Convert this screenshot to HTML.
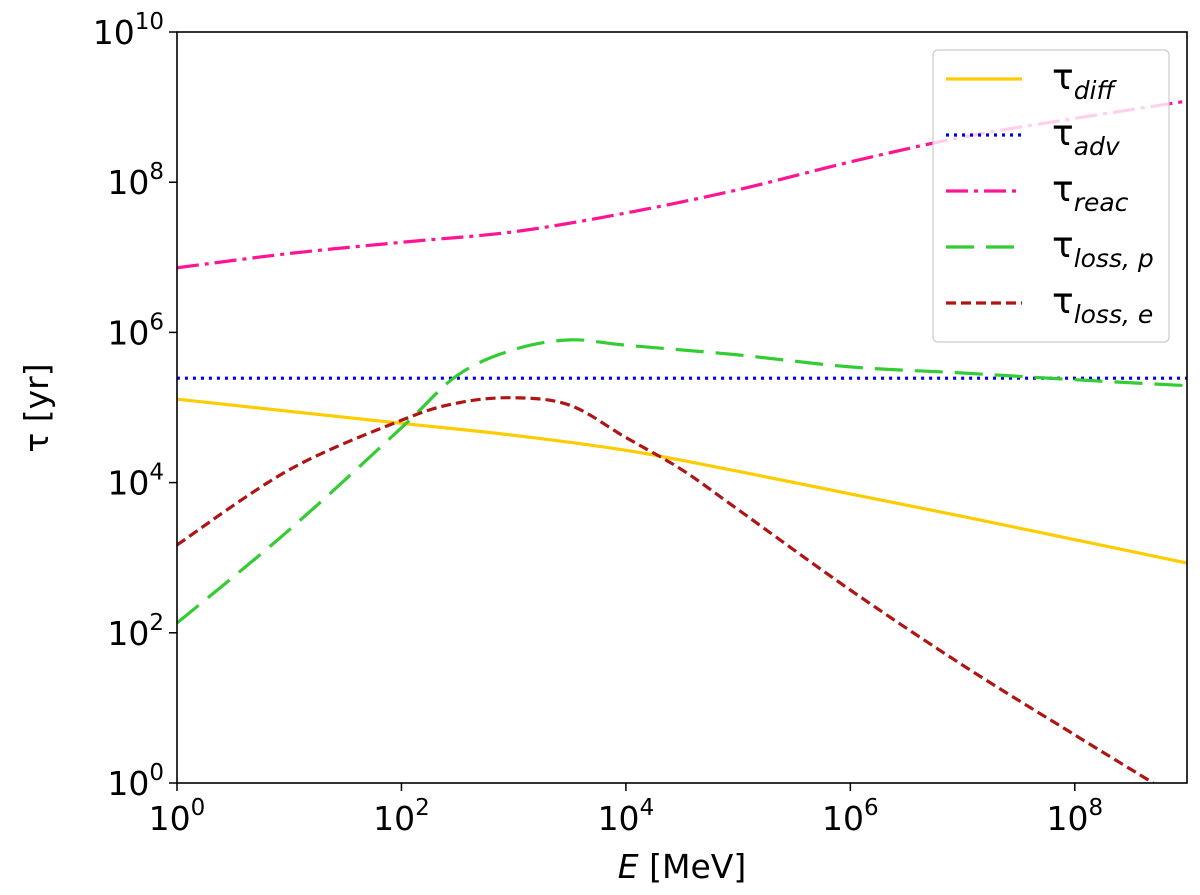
<!DOCTYPE html>
<html><head><meta charset="utf-8"><style>
body{margin:0;background:#fff}
svg text{font-family:"DejaVu Sans","Liberation Sans",sans-serif;fill:#000}
</style></head><body>
<svg id="chart" width="1200" height="890" viewBox="0 0 1200 890" xmlns="http://www.w3.org/2000/svg">
<defs><clipPath id="clip"><rect x="177" y="32" width="1010" height="751"/></clipPath></defs>
<g id="series" clip-path="url(#clip)"></g>
<rect x="177" y="32" width="1010" height="751" fill="none" stroke="#000" stroke-width="1.6"/>
<g id="axes"></g>
<text x="682" y="878" font-size="33" text-anchor="middle"><tspan font-style="italic">E</tspan> [MeV]</text>
<text transform="translate(48,408) rotate(-90)" font-size="33" text-anchor="middle">τ [yr]</text>
<g id="legend"></g>
</svg>
<script>
const xDecades=[0,2,4,6,8];
const yDecades=[0,2,4,6,8,10];
const diffX=[0,1,2,3,4,5,6,7,8,9];
const diffY=[5.11,4.95,4.79,4.63,4.43,4.15,3.85,3.55,3.24,2.93];
const advX=[0,9];
const advY=[5.39,5.39];
const reacX=[0,1,2,3,4,5,6,7,8,9];
const reacY=[6.86,7.05,7.2,7.34,7.59,7.9,8.27,8.6,8.85,9.08];
const losspX=[0,1,2,2.5,3,3.5,4,5,6,7,8,9];
const losspY=[2.13,3.37,4.73,5.43,5.77,5.9,5.83,5.7,5.54,5.46,5.37,5.29];
const losseX=[0,1,2,2.5,3,3.5,4,4.5,5,6,7,8,8.7];
const losseY=[3.17,4.17,4.83,5.06,5.13,5.03,4.6,4.17,3.64,2.57,1.57,0.64,0];
const NS="http://www.w3.org/2000/svg";
const sx=v=>177+v*(1010/9);
const sy=v=>783-v*(751/10);
const axes=document.getElementById('axes');
function mk(tag,attrs,parent){const e=document.createElementNS(NS,tag);for(const k in attrs)e.setAttribute(k,attrs[k]);parent.appendChild(e);return e;}
function smooth(xs,ys){
  const P=xs.map((v,i)=>[sx(v),sy(ys[i])]);
  let d='M'+P[0][0].toFixed(1)+','+P[0][1].toFixed(1);
  for(let i=0;i<P.length-1;i++){
    const p0=P[Math.max(0,i-1)],p1=P[i],p2=P[i+1],p3=P[Math.min(P.length-1,i+2)];
    const c1=[p1[0]+(p2[0]-p0[0])/6,p1[1]+(p2[1]-p0[1])/6];
    const c2=[p2[0]-(p3[0]-p1[0])/6,p2[1]-(p3[1]-p1[1])/6];
    d+=' C'+c1.map(v=>v.toFixed(1)).join(',')+' '+c2.map(v=>v.toFixed(1)).join(',')+' '+p2.map(v=>v.toFixed(1)).join(',');
  }
  return d;
}
xDecades.forEach(d=>{
  const t=mk('line',{x1:sx(d),x2:sx(d),y1:783,y2:791,stroke:'#000','stroke-width':1.5},axes);
  
  
  const l=mk('text',{x:sx(d),y:830,'font-size':33,'text-anchor':'middle'},axes);
  
  
  l.innerHTML='10<tspan dy="-15" font-size="23">'+d+'</tspan>';
});
yDecades.forEach(d=>{
  const t=mk('line',{x1:169,x2:177,y1:sy(d),y2:sy(d),stroke:'#000','stroke-width':1.5},axes);
  
  
  const l=mk('text',{x:164,y:sy(d)+12,'font-size':33,'text-anchor':'end'},axes);
  
  
  l.innerHTML='10<tspan dy="-15" font-size="23">'+d+'</tspan>';
});
const seriesDefs=[
 {n:'tau-diff',x:diffX,y:diffY,c:'#ffcc00',dash:'',lab:'diff'},
 {n:'tau-adv',x:advX,y:advY,c:'#0000ee',dash:'3,5',lab:'adv'},
 {n:'tau-reac',x:reacX,y:reacY,c:'#ff1493',dash:'22,6,4,6',lab:'reac'},
 {n:'tau-loss-p',x:losspX,y:losspY,c:'#33cc33',dash:'28,12',lab:'loss, p'},
 {n:'tau-loss-e',x:losseX,y:losseY,c:'#b01515',dash:'10,5',lab:'loss, e'}];
const sg=document.getElementById('series'), lg=document.getElementById('legend');
const lb=mk('rect',{x:933,y:50,width:236,height:292,rx:5,fill:'#fff','fill-opacity':0.8,stroke:'#ccc','stroke-width':1.2},lg);


seriesDefs.forEach((s,i)=>{
  const p=mk('path',{d:smooth(s.x,s.y),fill:'none',stroke:s.c,'stroke-width':3.2,'stroke-dasharray':s.dash,'stroke-linejoin':'round'},sg);
  
  
  const yy=79+i*56;
  const ll=mk('line',{x1:946,x2:1022,y1:yy,y2:yy,stroke:s.c,'stroke-width':3.2,'stroke-dasharray':s.dash},lg);
  
  
  const t=mk('text',{x:1052,y:yy+10,'font-size':36},lg);
  
  
  t.innerHTML='τ<tspan dy="10" font-size="25" font-style="italic">'+s.lab+'</tspan>';
});
</script>
</body></html>
